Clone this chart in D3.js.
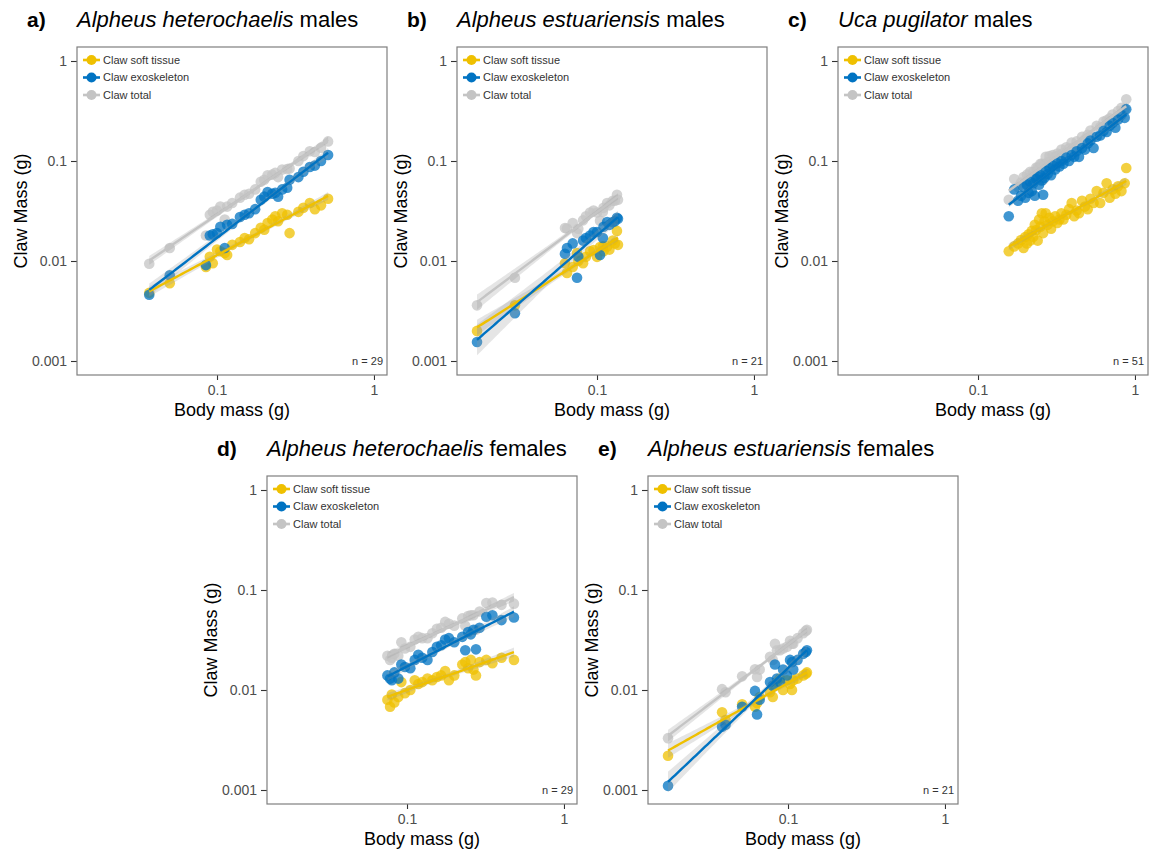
<!DOCTYPE html>
<html>
<head>
<meta charset="utf-8">
<script src="https://cdn.jsdelivr.net/npm/d3@7"></script>
<style>
  body { margin: 0; background: #fff; }
  svg { display: block; }
  text { font-family: "Liberation Sans", Arial, Helvetica, sans-serif; }
</style>
</head>
<body>
<svg id="fig" width="1149" height="857"></svg>
<script>
// Series shown in every panel
const seriesNames = ["Claw soft tissue", "Claw exoskeleton", "Claw total"];
const seriesColors = ["#EFC000", "#0073C2", "#C4C4C4"];

// Axis ticks (log scales)
const xTickValues = [0.1, 1];
const xTickLabels = ["0.1", "1"];
const yTickValues = [1, 0.1, 0.01, 0.001];
const yTickLabels = ["1", "0.1", "0.01", "0.001"];

// a) Alpheus heterochaelis males (g)
const aBody  = [0.037,0.050,0.085,0.090,0.094,0.100,0.105,0.112,0.116,0.125,0.140,0.150,0.160,0.175,0.190,0.200,0.210,0.225,0.235,0.245,0.260,0.280,0.290,0.330,0.355,0.390,0.420,0.460,0.510];
const aSoft  = [0.0048,0.0060,0.0087,0.0110,0.0095,0.0130,0.0125,0.0120,0.0115,0.0145,0.0155,0.0170,0.0165,0.0190,0.0215,0.0205,0.0240,0.0260,0.0280,0.0250,0.0300,0.0290,0.0190,0.0310,0.0340,0.0380,0.0330,0.0360,0.0420];
const aExo   = [0.0046,0.0072,0.0091,0.0180,0.0185,0.0190,0.0220,0.0135,0.0230,0.0235,0.0275,0.0290,0.0300,0.0330,0.0410,0.0440,0.0490,0.0470,0.0480,0.0440,0.0520,0.0540,0.0650,0.0690,0.0780,0.0870,0.0900,0.1000,0.1150];
const aTotal = [0.0094,0.0135,0.0180,0.0290,0.0310,0.0320,0.0350,0.0260,0.0350,0.0380,0.0430,0.0460,0.0470,0.0520,0.0620,0.0650,0.0720,0.0730,0.0760,0.0690,0.0820,0.0830,0.0840,0.1000,0.1120,0.1250,0.1230,0.1360,0.1570];

// b) Alpheus estuariensis males (g)
const bBody  = [0.0172,0.030,0.0625,0.0644,0.070,0.0746,0.076,0.0815,0.085,0.0903,0.095,0.100,0.1045,0.109,0.110,0.116,0.120,0.126,0.130,0.134,0.136];
const bSoft  = [0.0020,0.0036,0.0095,0.0076,0.0087,0.0120,0.0100,0.0095,0.0110,0.0125,0.0129,0.0110,0.0138,0.0140,0.0125,0.0140,0.0130,0.0160,0.0150,0.0200,0.0145];
const bExo   = [0.00155,0.0030,0.0118,0.0135,0.0150,0.0068,0.0110,0.0160,0.0170,0.0180,0.0195,0.0195,0.0115,0.0170,0.0220,0.0245,0.0230,0.0245,0.0250,0.0270,0.0265];
const bTotal = [0.0036,0.0068,0.0214,0.0211,0.0240,0.0190,0.0210,0.0255,0.0280,0.0305,0.0320,0.0305,0.0253,0.0310,0.0340,0.0380,0.0360,0.0400,0.0400,0.0460,0.0410];

// c) Uca pugilator males (g)
const cBody  = [0.157,0.170,0.180,0.188,0.195,0.200,0.205,0.210,0.215,0.220,0.225,0.230,0.235,0.240,0.245,0.250,0.255,0.260,0.265,0.270,0.278,0.285,0.292,0.300,0.310,0.320,0.330,0.340,0.350,0.365,0.380,0.395,0.410,0.425,0.440,0.460,0.480,0.500,0.520,0.545,0.570,0.600,0.630,0.660,0.690,0.720,0.750,0.780,0.820,0.860,0.880];
const cSoft  = [0.0125,0.0140,0.0150,0.0162,0.0135,0.0174,0.0150,0.0185,0.0160,0.0200,0.0175,0.0230,0.0204,0.0160,0.0260,0.0220,0.0300,0.0190,0.0250,0.0300,0.0230,0.0270,0.0210,0.0250,0.0280,0.0240,0.0260,0.0300,0.0260,0.0290,0.0330,0.0380,0.0280,0.0320,0.0300,0.0400,0.0350,0.0330,0.0420,0.0380,0.0500,0.0380,0.0480,0.0600,0.0430,0.0520,0.0470,0.0560,0.0500,0.0600,0.0850];
const cExo   = [0.028,0.052,0.040,0.045,0.055,0.043,0.058,0.048,0.062,0.050,0.060,0.045,0.066,0.070,0.058,0.072,0.064,0.046,0.068,0.080,0.074,0.085,0.072,0.090,0.082,0.095,0.088,0.100,0.094,0.108,0.100,0.115,0.110,0.125,0.110,0.135,0.130,0.150,0.160,0.135,0.175,0.180,0.200,0.195,0.225,0.240,0.215,0.260,0.290,0.270,0.330];
const cTotal = [0.041,0.066,0.055,0.061,0.069,0.060,0.073,0.067,0.078,0.070,0.078,0.068,0.086,0.086,0.084,0.094,0.094,0.065,0.093,0.110,0.097,0.112,0.093,0.115,0.110,0.119,0.114,0.130,0.120,0.137,0.133,0.153,0.138,0.157,0.140,0.175,0.165,0.183,0.202,0.173,0.225,0.218,0.248,0.255,0.268,0.292,0.262,0.316,0.340,0.330,0.415];

// d) Alpheus heterochaelis females (g)
const dBody  = [0.075,0.078,0.080,0.083,0.088,0.092,0.097,0.105,0.112,0.118,0.125,0.135,0.145,0.155,0.165,0.175,0.185,0.200,0.225,0.235,0.245,0.255,0.265,0.275,0.290,0.320,0.350,0.400,0.480];
const dSoft  = [0.0080,0.0068,0.0090,0.0075,0.0085,0.0120,0.0093,0.0100,0.0125,0.0115,0.0120,0.0130,0.0125,0.0135,0.0140,0.0155,0.0125,0.0140,0.0180,0.0190,0.0165,0.0200,0.0160,0.0140,0.0190,0.0200,0.0185,0.0210,0.0200];
const dExo   = [0.0140,0.0130,0.0125,0.0150,0.0130,0.0180,0.0170,0.0165,0.0200,0.0225,0.0210,0.0200,0.0240,0.0270,0.0280,0.0320,0.0330,0.0300,0.0340,0.0250,0.0380,0.0360,0.0400,0.0255,0.0420,0.0540,0.0560,0.0500,0.0530];
const dTotal = [0.0220,0.0200,0.0210,0.0230,0.0220,0.0300,0.0260,0.0270,0.0320,0.0340,0.0330,0.0330,0.0370,0.0410,0.0420,0.0480,0.0460,0.0440,0.0520,0.0440,0.0550,0.0560,0.0560,0.0400,0.0610,0.0740,0.0750,0.0710,0.0730];

// e) Alpheus estuariensis females (g)
const eBody  = [0.0172,0.038,0.040,0.051,0.0616,0.0635,0.066,0.0768,0.080,0.0826,0.085,0.089,0.093,0.0985,0.103,0.106,0.108,0.115,0.125,0.130,0.132];
const eSoft  = [0.0022,0.0060,0.0050,0.0072,0.0068,0.0074,0.0085,0.0095,0.0085,0.0110,0.0120,0.0130,0.0100,0.0125,0.0115,0.0100,0.0125,0.0130,0.0140,0.0145,0.0150];
const eExo   = [0.0011,0.0043,0.0045,0.0068,0.0098,0.0057,0.0080,0.0120,0.0110,0.0180,0.0130,0.0120,0.0160,0.0140,0.0200,0.0190,0.0160,0.0200,0.0230,0.0240,0.0250];
const eTotal = [0.0033,0.0102,0.0095,0.0137,0.0161,0.0135,0.0160,0.0215,0.0200,0.0290,0.0250,0.0250,0.0260,0.0270,0.0310,0.0290,0.0290,0.0330,0.0370,0.0390,0.0400];

const panels = [
  { letter: "a)", species: "Alpheus heterochaelis", sex: "males",   body: aBody, series: [aSoft, aExo, aTotal] },
  { letter: "b)", species: "Alpheus estuariensis",  sex: "males",   body: bBody, series: [bSoft, bExo, bTotal] },
  { letter: "c)", species: "Uca pugilator",         sex: "males",   body: cBody, series: [cSoft, cExo, cTotal] },
  { letter: "d)", species: "Alpheus heterochaelis", sex: "females", body: dBody, series: [dSoft, dExo, dTotal] },
  { letter: "e)", species: "Alpheus estuariensis",  sex: "females", body: eBody, series: [eSoft, eExo, eTotal] }
];

// Layout of the panel grid
const panelOrigins = [[77, 47], [457, 47], [838, 47], [267, 476], [648, 476]];
const panelW = 310, panelH = 328;

const x = d3.scaleLog().domain([Math.pow(10, -1.892), Math.pow(10, 0.083)]).range([0, panelW]);
const y = d3.scaleLog().domain([Math.pow(10, -3.14), Math.pow(10, 0.14)]).range([panelH, 0]);

// Two-sided 95% t quantile (Cornish-Fisher style expansion)
function tQuantile(df) {
  const z = 1.959964;
  return z + (z ** 3 + z) / (4 * df) + (5 * z ** 5 + 16 * z ** 3 + 3 * z) / (96 * df * df);
}

// Ordinary least squares on log10-log10 data with a 95% confidence band
function logFit(xs, ys) {
  const lx = xs.map(Math.log10), ly = ys.map(Math.log10);
  const n = lx.length;
  const mx = d3.mean(lx), my = d3.mean(ly);
  let sxx = 0, sxy = 0;
  for (let i = 0; i < n; i++) { sxx += (lx[i] - mx) ** 2; sxy += (lx[i] - mx) * (ly[i] - my); }
  const b = sxy / sxx, a = my - b * mx;
  let sse = 0;
  for (let i = 0; i < n; i++) sse += (ly[i] - (a + b * lx[i])) ** 2;
  const s = Math.sqrt(sse / (n - 2));
  const t = tQuantile(n - 2);
  const [lo, hi] = d3.extent(lx);
  return d3.range(61).map(k => {
    const u = lo + (hi - lo) * k / 60;
    const fit = a + b * u;
    const se = s * Math.sqrt(1 / n + (u - mx) ** 2 / sxx);
    return { x: Math.pow(10, u), y: Math.pow(10, fit), lo: Math.pow(10, fit - t * se), hi: Math.pow(10, fit + t * se) };
  });
}

const svg = d3.select("#fig");

panels.forEach((p, pi) => {
  const [L, T] = panelOrigins[pi];
  const g = svg.append("g").attr("transform", `translate(${L},${T})`);

  // Panel heading
  svg.append("text").attr("x", L - 50).attr("y", T - 20)
    .attr("font-size", 21).attr("font-weight", "bold").attr("fill", "#000").text(p.letter);
  const title = svg.append("text").attr("x", L).attr("y", T - 20).attr("font-size", 22).attr("fill", "#000");
  title.append("tspan").attr("font-style", "italic").text(p.species);
  title.append("tspan").text(" " + p.sex);

  // Points: total underneath, then soft tissue, then exoskeleton
  const drawOrder = [2, 0, 1];
  drawOrder.forEach(si => {
    g.append("g").selectAll("circle").data(p.body.map((b, i) => [b, p.series[si][i]]))
      .join("circle")
      .attr("cx", d => x(d[0])).attr("cy", d => y(d[1])).attr("r", 5.3)
      .attr("fill", seriesColors[si]).attr("fill-opacity", 0.75);
  });

  // Fitted lines with confidence ribbons
  const fits = p.series.map(s => logFit(p.body, s));
  const area = d3.area().x(d => x(d.x)).y0(d => y(d.lo)).y1(d => y(d.hi));
  const line = d3.line().x(d => x(d.x)).y(d => y(d.y));
  drawOrder.forEach(si => {
    g.append("path").attr("d", area(fits[si])).attr("fill", "#999999").attr("fill-opacity", 0.25);
  });
  drawOrder.forEach(si => {
    g.append("path").attr("d", line(fits[si])).attr("fill", "none")
      .attr("stroke", seriesColors[si]).attr("stroke-width", 2.4);
  });

  // Axes
  const xAxis = g.append("g").attr("transform", `translate(0,${panelH})`)
    .call(d3.axisBottom(x).tickValues(xTickValues).tickFormat((d, i) => xTickLabels[i]).tickSize(5).tickPadding(5));
  const yAxis = g.append("g")
    .call(d3.axisLeft(y).tickValues(yTickValues).tickFormat((d, i) => yTickLabels[i]).tickSize(6).tickPadding(4));
  [xAxis, yAxis].forEach(ax => {
    ax.select(".domain").remove();
    ax.selectAll(".tick line").attr("stroke", "#333").attr("stroke-width", 1.1);
    ax.selectAll(".tick text").attr("fill", "#4D4D4D").attr("font-size", 14)
      .attr("font-family", "'Liberation Sans', Arial, Helvetica, sans-serif");
  });

  // Panel frame
  g.append("rect").attr("width", panelW).attr("height", panelH)
    .attr("fill", "none").attr("stroke", "#7F7F7F").attr("stroke-width", 1.2);

  // Axis titles
  g.append("text").attr("x", panelW / 2).attr("y", panelH + 41).attr("text-anchor", "middle")
    .attr("font-size", 18).attr("fill", "#000").text("Body mass (g)");
  g.append("text").attr("transform", `translate(-50,${panelH / 2}) rotate(-90)`).attr("text-anchor", "middle")
    .attr("font-size", 18).attr("fill", "#000").text("Claw Mass (g)");

  // Legend
  const leg = g.append("g").attr("transform", "translate(6,13)");
  seriesNames.forEach((name, si) => {
    const row = leg.append("g").attr("transform", `translate(0,${si * 17.5})`);
    row.append("line").attr("x1", 0).attr("x2", 17).attr("y1", 0).attr("y2", 0)
      .attr("stroke", seriesColors[si]).attr("stroke-width", 2.6);
    row.append("circle").attr("cx", 8.5).attr("cy", 0).attr("r", 5).attr("fill", seriesColors[si]);
    row.append("text").attr("x", 20).attr("y", 0).attr("dy", "0.35em")
      .attr("font-size", 11).attr("fill", "#333").text(name);
  });

  // Sample size
  g.append("text").attr("x", panelW - 4).attr("y", panelH - 10).attr("text-anchor", "end")
    .attr("font-size", 11).attr("fill", "#333").text("n = " + p.body.length);
});
</script>
</body>
</html>
